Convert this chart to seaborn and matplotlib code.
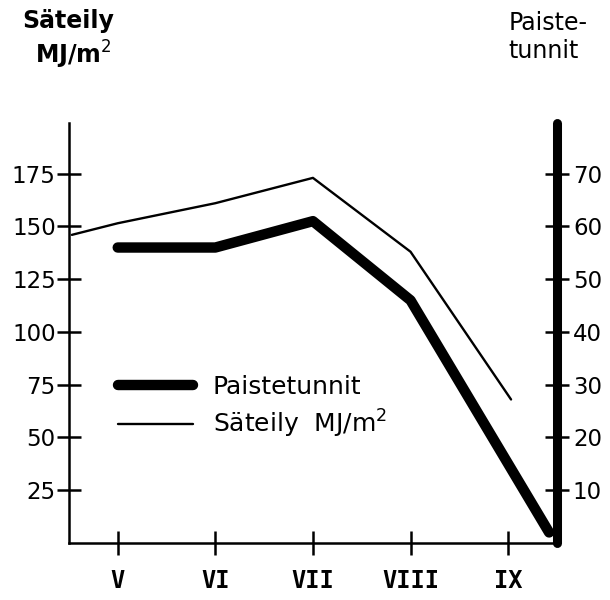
import pandas as pd
import matplotlib.pyplot as plt
import seaborn as sns

# kuukaudet (x-akseli)
kuukaudet = ["V", "VI", "VII", "VIII", "IX"]
kk_pos = [0, 1, 2, 3, 4]

# Säteily MJ/m2 (vasen akseli), viiva alkaa akselilta
sateily_x = [-0.47, 0, 1, 2, 3, 4.03]
sateily = [146, 151.5, 161, 173, 138, 68]

# Paistetunnit (oikea akseli), viiva päättyy oikealle akselille
paiste_x = [0, 1, 2, 3, 4.42]
paiste = [56, 56, 61, 46, 2]

vasen_ticks = [25, 50, 75, 100, 125, 150, 175]
oikea_ticks = [10, 20, 30, 40, 50, 60, 70]

df_s = pd.DataFrame({"kk": sateily_x, "arvo": sateily})
df_p = pd.DataFrame({"kk": paiste_x, "arvo": paiste})

sns.set_style("white")
plt.rcParams['font.family'] = ['DejaVu Sans']
plt.rcParams['text.color'] = 'black'
plt.rcParams['xtick.color'] = 'black'
plt.rcParams['ytick.color'] = 'black'
plt.rcParams['axes.labelcolor'] = 'black'

fig = plt.figure(figsize=(6.1, 6.0), dpi=100)
ax = fig.add_axes([0.113, 0.095, 0.8, 0.70])
ax2 = ax.twinx()

sns.lineplot(data=df_s, x="kk", y="arvo", ax=ax, color="black",
             linewidth=1.7, label="Säteily  MJ/m$^2$", legend=False)
sns.lineplot(data=df_p, x="kk", y="arvo", ax=ax2, color="black",
             linewidth=7.5, solid_capstyle="round", solid_joinstyle="round",
             label="Paistetunnit", legend=False)

ax.set_xlim(-0.5, 4.5)
ax.set_ylim(0, 199)
ax2.set_ylim(0, 199 / 2.5)

ax.set_xticks(kk_pos)
ax.set_xticklabels(kuukaudet, family="DejaVu Sans Mono", fontsize=17,
                   fontweight="bold")
ax.set_yticks(vasen_ticks)
ax.set_yticklabels([str(v) for v in vasen_ticks], fontsize=16.5)
ax2.set_yticks(oikea_ticks)
ax2.set_yticklabels([str(v) for v in oikea_ticks], fontsize=16.5)
ax.set_xlabel("")
ax.set_ylabel("")
ax2.set_ylabel("")

for a in (ax, ax2):
    a.spines["top"].set_visible(False)
    for s in a.spines.values():
        s.set_color("black")
ax.spines["right"].set_visible(False)
ax2.spines["left"].set_visible(False)
ax2.spines["bottom"].set_visible(False)
ax.spines["left"].set_linewidth(1.8)
ax.spines["bottom"].set_linewidth(1.8)
ax2.spines["right"].set_linewidth(6.5)
ax2.spines["right"].set_capstyle("round")

ax.tick_params(axis="both", direction="inout", length=17, width=1.8,
               color="black", bottom=True, left=True)
ax.tick_params(axis="x", pad=10)
ax.tick_params(axis="y", pad=1)
ax2.tick_params(axis="y", direction="inout", length=17, width=1.8,
                color="black", pad=3, right=True)

# selite
h1 = ax2.get_lines()[0]
h2 = ax.get_lines()[0]
ax.legend([h1, h2], ["Paistetunnit", "Säteily  MJ/m$^2$"],
          loc="upper left", bbox_to_anchor=(0.1, 0.40), frameon=False,
          fontsize=18, handlelength=3.0, handletextpad=0.8,
          labelspacing=0.35, borderpad=0, borderaxespad=0)

fig.text(0.112, 0.985, "Säteily", ha="center", va="top", fontsize=17,
         fontweight="bold")
fig.text(0.12, 0.935, "MJ/m$^2$", ha="center", va="top", fontsize=17,
         fontweight="bold")
fig.text(0.833, 0.982, "Paiste-", ha="left", va="top", fontsize=17)
fig.text(0.833, 0.935, "tunnit", ha="left", va="top", fontsize=17)

fig.savefig("out.png", dpi=100, facecolor="white")
